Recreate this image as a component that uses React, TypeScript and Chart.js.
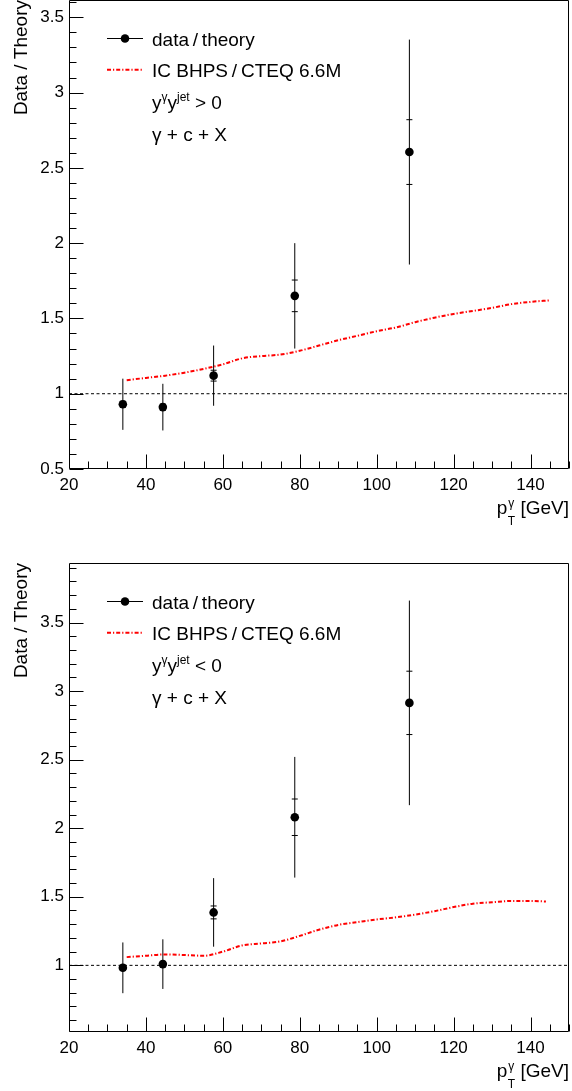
import React, { useEffect, useRef } from "react";
import { Chart, registerables } from "chart.js";

Chart.register(...registerables);

const FONT = '"Liberation Sans", Arial, Helvetica, sans-serif';

// ---- data ----
const pointX = [34.0, 44.4, 57.6, 78.7, 108.5];

const topRatio = [0.93, 0.911, 1.12, 1.65, 2.605];
const topTotalErr = [0.17, 0.155, 0.2, 0.35, 0.747];
const topStatErr = [0.02, 0.02, 0.036, 0.105, 0.215];

const botRatio = [0.982, 1.009, 1.386, 2.08, 2.914];
const botTotalErr = [0.185, 0.181, 0.25, 0.44, 0.746];
const botStatErr = [0.02, 0.02, 0.047, 0.133, 0.231];

const topTheoryX = [35, 40, 45, 50, 55, 60, 65, 70, 75, 80, 85, 90, 95, 100, 105, 110, 115, 120, 125, 130, 135, 140, 145];
const topTheoryY = [1.09, 1.105, 1.12, 1.14, 1.165, 1.195, 1.235, 1.25, 1.26, 1.285, 1.32, 1.355, 1.385, 1.415, 1.44, 1.475, 1.505, 1.53, 1.55, 1.57, 1.595, 1.61, 1.62];

const botTheoryX = [35, 40, 45, 50, 55, 60, 65, 70, 75, 80, 85, 90, 95, 100, 105, 110, 115, 120, 125, 130, 135, 140, 144];
const botTheoryY = [1.06, 1.07, 1.08, 1.075, 1.07, 1.1, 1.145, 1.16, 1.175, 1.215, 1.26, 1.295, 1.315, 1.335, 1.35, 1.37, 1.395, 1.425, 1.45, 1.46, 1.47, 1.47, 1.465];

const refLineX = [20, 150];
const refLineY = [1, 1];

const xMin = 20;
const xMax = 150;
const xMajorStep = 20;
const xMinorStep = 5;
const yMajorStep = 0.5;

type Panel = {
  height: number;
  padTop: number;
  xAxisH: number;
  yMin: number;
  yMax: number;
  ratio: number[];
  totalErr: number[];
  statErr: number[];
  theoryX: number[];
  theoryY: number[];
  sign: string;
};

const panels: Panel[] = [
  {
    height: 545,
    padTop: 0,
    xAxisH: 76,
    yMin: 0.5,
    yMax: 3.615,
    ratio: topRatio,
    totalErr: topTotalErr,
    statErr: topStatErr,
    theoryX: topTheoryX,
    theoryY: topTheoryY,
    sign: ">",
  },
  {
    height: 546,
    padTop: 18,
    xAxisH: 59,
    yMin: 0.514,
    yMax: 3.934,
    ratio: botRatio,
    totalErr: botTotalErr,
    statErr: botStatErr,
    theoryX: botTheoryX,
    theoryY: botTheoryY,
    sign: "<",
  },
];

const THEORY_DASH = [4, 2, 1.2, 2];

type Part = { t: string; mode?: "sup" | "sub" };

function drawRich(ctx: CanvasRenderingContext2D, x: number, base: number, parts: Part[], size: number, small: number) {
  let cx = x;
  ctx.textAlign = "left";
  ctx.textBaseline = "alphabetic";
  for (const p of parts) {
    ctx.font = `${p.mode ? small : size}px ${FONT}`;
    const dy = p.mode === "sup" ? -7.5 : p.mode === "sub" ? 5 : 0;
    ctx.fillText(p.t, cx, base + dy);
    cx += ctx.measureText(p.t).width;
  }
  return cx;
}

function makePlugin(panel: Panel) {
  return {
    id: "rootStyle",
    beforeDatasetsDraw(chart: any) {
      const { ctx, scales } = chart;
      const xs = scales.x;
      const ys = scales.y;
      ctx.save();
      ctx.strokeStyle = "#000";
      ctx.lineWidth = 1;
      for (let i = 0; i < pointX.length; i++) {
        const px = xs.getPixelForValue(pointX[i]);
        const yt = ys.getPixelForValue(panel.ratio[i] + panel.totalErr[i]);
        const yb = ys.getPixelForValue(panel.ratio[i] - panel.totalErr[i]);
        ctx.beginPath();
        ctx.moveTo(px, yt);
        ctx.lineTo(px, yb);
        ctx.stroke();
        const s1 = ys.getPixelForValue(panel.ratio[i] + panel.statErr[i]);
        const s2 = ys.getPixelForValue(panel.ratio[i] - panel.statErr[i]);
        ctx.beginPath();
        ctx.moveTo(px - 3, s1);
        ctx.lineTo(px + 3, s1);
        ctx.moveTo(px - 3, s2);
        ctx.lineTo(px + 3, s2);
        ctx.stroke();
      }
      ctx.restore();
    },
    afterDraw(chart: any) {
      const { ctx, chartArea, scales } = chart;
      const xs = scales.x;
      const ys = scales.y;
      const L = Math.round(chartArea.left) + 0.5;
      const R = Math.round(chartArea.right) - 0.5;
      const T = Math.round(chartArea.top) + 0.5;
      const B = Math.round(chartArea.bottom) - 0.5;
      ctx.save();
      ctx.strokeStyle = "#000";
      ctx.lineWidth = 1;
      ctx.setLineDash([]);
      ctx.beginPath();
      ctx.rect(L, T, R - L, B - T);
      ctx.stroke();

      // x ticks (inside)
      ctx.beginPath();
      for (let v = xMin; v <= xMax + 1e-9; v += xMinorStep) {
        const px = Math.round(xs.getPixelForValue(v)) + 0.5;
        const major = Math.abs((v - xMin) % xMajorStep) < 1e-6;
        const len = major ? 14 : 7;
        ctx.moveTo(px, B);
        ctx.lineTo(px, B - len);
      }
      // y ticks (inside)
      const k0 = Math.ceil(panel.yMin * 10 - 1e-9);
      const k1 = Math.floor(panel.yMax * 10 + 1e-9);
      for (let k = k0; k <= k1; k++) {
        const py = Math.round(ys.getPixelForValue(k / 10)) + 0.5;
        const len = k % 5 === 0 ? 14 : 7;
        ctx.moveTo(L, py);
        ctx.lineTo(L + len, py);
      }
      ctx.stroke();

      ctx.fillStyle = "#000";
      // y title
      ctx.save();
      ctx.translate(27, chartArea.top);
      ctx.rotate(-Math.PI / 2);
      ctx.font = `19px ${FONT}`;
      ctx.textAlign = "right";
      ctx.textBaseline = "alphabetic";
      ctx.fillText("Data / Theory", 0, 0);
      ctx.restore();

      // x title: p_T^gamma [GeV]
      const base = chartArea.bottom + 45;
      ctx.font = `19px ${FONT}`;
      const gev = " [GeV]";
      const gevW = ctx.measureText(gev).width;
      const pW = ctx.measureText("p").width;
      ctx.font = `12px ${FONT}`;
      const blockW = Math.max(ctx.measureText("T").width, ctx.measureText("γ").width);
      const xEnd = chartArea.right;
      const gevX = xEnd - gevW;
      const blockX = gevX - blockW;
      const pX = blockX - pW - 0.5;
      ctx.textAlign = "left";
      ctx.textBaseline = "alphabetic";
      ctx.font = `19px ${FONT}`;
      ctx.fillText("p", pX, base);
      ctx.fillText(gev, gevX, base);
      ctx.font = `12px ${FONT}`;
      ctx.fillText("T", blockX, base + 11);
      ctx.fillText("γ", blockX + 0.5, base - 7);

      // legend
      const top = chartArea.top;
      const bl = (i: number) => top + 45.5 + 31.7 * i;
      const lx0 = 107;
      const lx1 = 143;
      const tx = 152;
      // row 0
      const y0 = Math.round(bl(0) - 7.5) + 0.5;
      ctx.beginPath();
      ctx.moveTo(lx0, y0);
      ctx.lineTo(lx1, y0);
      ctx.stroke();
      ctx.beginPath();
      ctx.arc((lx0 + lx1) / 2, y0, 4.3, 0, Math.PI * 2);
      ctx.fill();
      ctx.font = `19px ${FONT}`;
      ctx.textAlign = "left";
      ctx.fillText("data\u2009/\u2009theory", tx, bl(0));
      // row 1
      const y1 = bl(1) - 7.5;
      ctx.save();
      ctx.strokeStyle = "#ff0000";
      ctx.lineWidth = 2;
      ctx.setLineDash(THEORY_DASH);
      ctx.beginPath();
      ctx.moveTo(lx0, y1);
      ctx.lineTo(lx1, y1);
      ctx.stroke();
      ctx.restore();
      ctx.fillText("IC BHPS\u2009/\u2009CTEQ 6.6M", tx, bl(1));
      // row 2
      drawRich(
        ctx,
        tx,
        bl(2),
        [
          { t: "y" },
          { t: "γ", mode: "sup" },
          { t: "y" },
          { t: "jet", mode: "sup" },
          { t: ` ${panel.sign} 0` },
        ],
        19,
        12
      );
      // row 3
      ctx.font = `19px ${FONT}`;
      ctx.fillText("γ + c + X", tx, bl(3));
      ctx.restore();
    },
  };
}

function PanelChart({ panel }: { panel: Panel }) {
  const ref = useRef<HTMLCanvasElement | null>(null);
  useEffect(() => {
    if (!ref.current) return;
    const chart = new Chart(ref.current, {
      type: "scatter",
      data: {
        datasets: [
          {
            label: "data/theory",
            data: pointX.map((x, i) => ({ x, y: panel.ratio[i] })),
            pointRadius: 4.3,
            pointHoverRadius: 4.3,
            pointBackgroundColor: "#000",
            pointBorderWidth: 0,
            showLine: false,
            order: 0,
          },
          {
            label: "ref",
            data: refLineX.map((x, i) => ({ x, y: refLineY[i] })),
            showLine: true,
            borderColor: "#000",
            borderWidth: 1,
            borderDash: [3, 2.5],
            pointRadius: 0,
            order: 1,
          },
          {
            label: "IC BHPS / CTEQ 6.6M",
            data: panel.theoryX.map((x, i) => ({ x, y: panel.theoryY[i] })),
            showLine: true,
            borderColor: "#ff0000",
            borderWidth: 2,
            borderDash: THEORY_DASH,
            pointRadius: 0,
            cubicInterpolationMode: "monotone",
            order: 2,
          },
        ] as any,
      },
      options: {
        animation: false,
        responsive: false,
        devicePixelRatio: 1,
        layout: { autoPadding: false, padding: { top: panel.padTop, right: 3, left: 0, bottom: 0 } },
        plugins: {
          legend: { display: false },
          tooltip: { enabled: false },
        },
        scales: {
          x: {
            type: "linear",
            min: xMin,
            max: xMax,
            grid: { display: false, drawTicks: false },
            border: { display: false },
            ticks: {
              stepSize: xMajorStep,
              includeBounds: false,
              autoSkip: false,
              maxRotation: 0,
              padding: 6,
              color: "#000",
              font: { family: FONT, size: 17 },
              callback: (v: any) => String(v),
            },
            afterFit: (s: any) => {
              s.height = panel.xAxisH;
              s.paddingLeft = 0;
              s.paddingRight = 0;
            },
          },
          y: {
            type: "linear",
            min: panel.yMin,
            max: panel.yMax,
            grid: { display: false, drawTicks: false },
            border: { display: false },
            ticks: {
              stepSize: yMajorStep,
              includeBounds: false,
              autoSkip: false,
              padding: 5,
              color: "#000",
              font: { family: FONT, size: 17 },
              callback: (v: any) => String(Math.round(Number(v) * 10) / 10),
            },
            afterFit: (s: any) => {
              s.width = 69;
              s.paddingTop = 0;
              s.paddingBottom = 0;
            },
          },
        },
      } as any,
      plugins: [makePlugin(panel)],
    });
    return () => chart.destroy();
  }, [panel]);
  return (
    <canvas
      ref={ref}
      width={572}
      height={panel.height}
      style={{ display: "block", width: 572, height: panel.height }}
    />
  );
}

export default function App() {
  return (
    <div style={{ position: "absolute", left: 0, top: 0, width: 572, height: 1091, background: "#fff" }}>
      {panels.map((p, i) => (
        <PanelChart key={i} panel={p} />
      ))}
    </div>
  );
}
